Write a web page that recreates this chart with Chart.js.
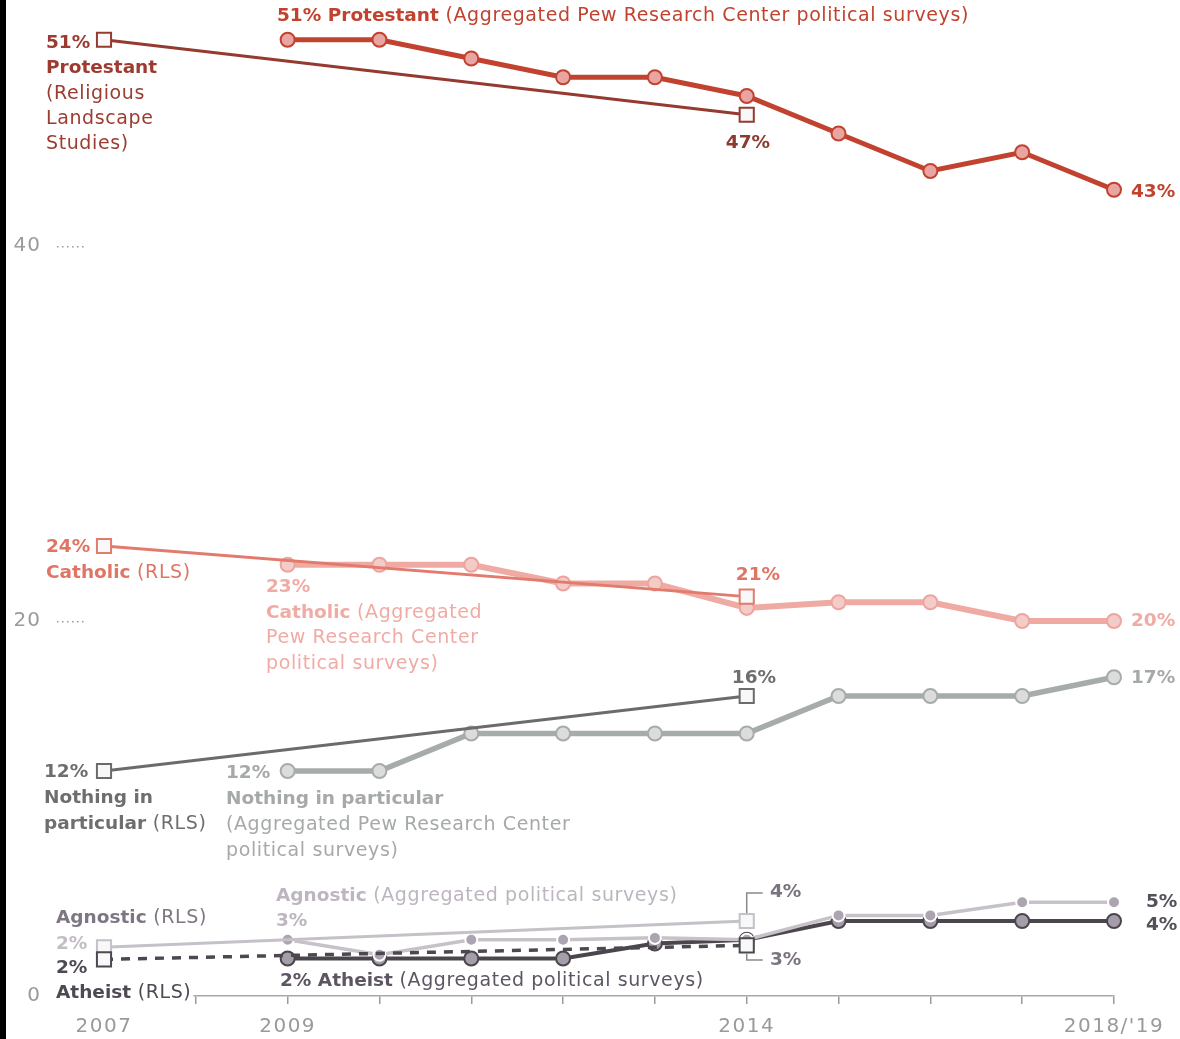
<!DOCTYPE html>
<html lang="en">
<head>
    <meta charset="UTF-8">
    <title>Religious affiliation trends</title>
    <style>
        body {
            margin: 0;
            background: #fff;
        }
        #wrap {
            position: relative;
            width: 1180px;
            height: 1039px;
        }
        /* dark strip along the left edge of the original image */
        #edge {
            position: absolute;
            left: 0;
            top: 0;
            width: 6px;
            height: 1039px;
            background: #000;
        }
    </style>
    <script src="https://cdn.jsdelivr.net/npm/chart.js"></script>
</head>
<body>
    <div id="wrap">
        <canvas id="chart" width="1180" height="1039"></canvas>
        <div id="edge"></div>
    </div>
    <script>
        // categories
        const years = ['2007', '2008', '2009', '2010', '2011', '2012', '2013', '2014', '2015', '2016', '2017', "2018/'19"];
        const shownYears = ['2007', '2009', '2014', "2018/'19"];
        const yTicks = [0, 20, 40];

        // Religious Landscape Studies (2007 and 2014 only)
        const protestantRls = [51, null, null, null, null, null, null, 47, null, null, null, null];
        const catholicRls   = [24, null, null, null, null, null, null, 21.3, null, null, null, null];
        const nothingRls    = [12, null, null, null, null, null, null, 16, null, null, null, null];
        const agnosticRls   = [2.6, null, null, null, null, null, null, 4, null, null, null, null];
        const atheistRls    = [1.95, null, null, null, null, null, null, 2.7, null, null, null, null];

        // Aggregated Pew Research Center political surveys
        const protestantAgg = [null, null, 51, 51, 50, 49, 49, 48, 46, 44, 45, 43];
        const catholicAgg   = [null, null, 23, 23, 23, 22, 22, 20.7, 21, 21, 20, 20];
        const nothingAgg    = [null, null, 12, 12, 14, 14, 14, 14, 16, 16, 16, 17];
        const agnosticAgg   = [null, null, 3, 2.2, 3, 3, 3.1, 3, 4.3, 4.3, 5, 5];
        const atheistAgg    = [null, null, 2, 2, 2, 2, 2.8, 3, 4, 4, 4, 4];

        const FONT = '"DejaVu Sans", "Liberation Sans", sans-serif';

        function aggLine(data, line, fill, border, width, radius, order) {
            return {
                data: data,
                borderColor: line,
                borderWidth: width,
                pointBackgroundColor: fill,
                pointBorderColor: border,
                pointBorderWidth: 2,
                pointRadius: radius,
                pointStyle: 'circle',
                spanGaps: false,
                tension: 0,
                order: order
            };
        }

        function rlsLine(data, line, width, order, dash) {
            return {
                data: data,
                borderColor: line,
                borderWidth: width,
                borderDash: dash || [],
                pointBackgroundColor: '#f8f8f8',
                pointBorderColor: line,
                pointBorderWidth: 2,
                pointRadius: 10,
                pointStyle: 'rect',
                spanGaps: true,
                tension: 0,
                order: order
            };
        }

        function setFont(ctx, bold) {
            ctx.font = bold ? 'bold 18.5px ' + FONT : '19px ' + FONT;
            ctx.letterSpacing = bold ? '0px' : '0.6px';
        }

        // text pieces: [text, bold]
        function measure(ctx, parts) {
            let total = 0;
            parts.forEach(p => {
                setFont(ctx, p[1]);
                total += ctx.measureText(p[0]).width;
            });
            return total;
        }

        function rich(ctx, x, y, parts, color, align) {
            ctx.fillStyle = color;
            ctx.textBaseline = 'middle';
            ctx.textAlign = 'left';
            let cx = x;
            if (align === 'center') cx = x - measure(ctx, parts) / 2;
            parts.forEach(p => {
                setFont(ctx, p[1]);
                ctx.fillText(p[0], cx, y);
                cx += ctx.measureText(p[0]).width;
            });
        }

        const notes = [
            { x: 277, y: 16, parts: [['51% Protestant', true], [' (Aggregated Pew Research Center political surveys)', false]], color: '#c1432f' },
            { x: 46, y: 43, parts: [['51%', true]], color: '#9c3b30' },
            { x: 46, y: 68, parts: [['Protestant', true]], color: '#9c3b30' },
            { x: 46, y: 94, parts: [['(Religious', false]], color: '#9c3b30' },
            { x: 46, y: 119, parts: [['Landscape', false]], color: '#9c3b30' },
            { x: 46, y: 144, parts: [['Studies)', false]], color: '#9c3b30' },
            { x: 748, y: 143, parts: [['47%', true]], color: '#8e3a30', align: 'center' },
            { x: 1131, y: 192, parts: [['43%', true]], color: '#c1432f' },

            { x: 46, y: 547, parts: [['24%', true]], color: '#e07565' },
            { x: 46, y: 573, parts: [['Catholic', true], [' (RLS)', false]], color: '#e07565' },
            { x: 758, y: 575, parts: [['21%', true]], color: '#e07565', align: 'center' },
            { x: 266, y: 587, parts: [['23%', true]], color: '#f0aba5' },
            { x: 266, y: 613, parts: [['Catholic', true], [' (Aggregated', false]], color: '#f0aba5' },
            { x: 266, y: 638, parts: [['Pew Research Center', false]], color: '#f0aba5' },
            { x: 266, y: 664, parts: [['political surveys)', false]], color: '#f0aba5' },
            { x: 1131, y: 621, parts: [['20%', true]], color: '#f0aba5' },

            { x: 754, y: 678, parts: [['16%', true]], color: '#6e6e6e', align: 'center' },
            { x: 1131, y: 678, parts: [['17%', true]], color: '#a5aaa7' },
            { x: 44, y: 772, parts: [['12%', true]], color: '#6e6e6e' },
            { x: 44, y: 798, parts: [['Nothing in', true]], color: '#6e6e6e' },
            { x: 44, y: 824, parts: [['particular', true], [' (RLS)', false]], color: '#6e6e6e' },
            { x: 226, y: 773, parts: [['12%', true]], color: '#a5aaa7' },
            { x: 226, y: 799, parts: [['Nothing in particular', true]], color: '#a5aaa7' },
            { x: 226, y: 825, parts: [['(Aggregated Pew Research Center', false]], color: '#a5aaa7' },
            { x: 226, y: 851, parts: [['political surveys)', false]], color: '#a5aaa7' },

            { x: 276, y: 896, parts: [['Agnostic', true], [' (Aggregated political surveys)', false]], color: '#bdb5bf' },
            { x: 276, y: 921, parts: [['3%', true]], color: '#bdb5bf' },
            { x: 56, y: 918, parts: [['Agnostic', true], [' (RLS)', false]], color: '#7e7683' },
            { x: 56, y: 944, parts: [['2%', true]], color: '#c4bdc6' },
            { x: 56, y: 968, parts: [['2%', true]], color: '#4f4954' },
            { x: 56, y: 993, parts: [['Atheist', true], [' (RLS)', false]], color: '#4f4954', bg: true },
            { x: 280, y: 981, parts: [['2% Atheist', true], [' (Aggregated political surveys)', false]], color: '#5d5662' },
            { x: 770, y: 892, parts: [['4%', true]], color: '#7b7480' },
            { x: 770, y: 960, parts: [['3%', true]], color: '#7b7480' },
            { x: 1146, y: 902, parts: [['5%', true]], color: '#55505a' },
            { x: 1146, y: 925, parts: [['4%', true]], color: '#55505a' }
        ];

        const notesPlugin = {
            id: 'notes',
            beforeDraw(chart) {
                // wider spacing for the year labels drawn by the x axis
                chart.ctx.letterSpacing = '1.5px';
            },
            afterDraw(chart) {
                const ctx = chart.ctx;
                const yScale = chart.scales.y;
                const xScale = chart.scales.x;
                ctx.save();

                // y tick labels with short dotted stubs
                yTicks.forEach(v => {
                    const py = yScale.getPixelForValue(v);
                    ctx.font = '20px ' + FONT;
                    ctx.letterSpacing = '1px';
                    ctx.fillStyle = '#9a9a9a';
                    ctx.textAlign = 'right';
                    ctx.textBaseline = 'middle';
                    ctx.fillText(String(v), 41, py);
                    if (v > 0) {
                        for (let dx = 57; dx <= 84; dx += 5) {
                            ctx.fillRect(dx, py, 1.5, 1.5);
                        }
                    }
                });

                // brackets for the 2014 agnostic / atheist RLS values
                const bx = xScale.getPixelForValue(7);
                ctx.strokeStyle = '#8a8a8a';
                ctx.lineWidth = 1.5;
                ctx.beginPath();
                ctx.moveTo(bx, yScale.getPixelForValue(agnosticRls[7]) - 8);
                ctx.lineTo(bx, 893);
                ctx.lineTo(bx + 16, 893);
                ctx.moveTo(bx, yScale.getPixelForValue(atheistRls[7]) + 8);
                ctx.lineTo(bx, 960);
                ctx.lineTo(bx + 16, 960);
                ctx.stroke();

                notes.forEach(n => {
                    if (n.bg) {
                        const w = measure(ctx, n.parts);
                        ctx.fillStyle = '#fff';
                        ctx.fillRect(n.x - 2, n.y - 12, w + 4, 24);
                    }
                    rich(ctx, n.x, n.y, n.parts, n.color, n.align);
                });
                ctx.restore();
                ctx.letterSpacing = '0px';
            }
        };

        new Chart(document.getElementById('chart'), {
            type: 'line',
            data: {
                labels: years,
                datasets: [
                    rlsLine(atheistRls, '#4c4751', 3.5, 1, [9, 8]),
                    rlsLine(agnosticRls, '#c6c0c8', 3, 2),
                    aggLine(agnosticAgg, '#c7c1c9', '#aca4b0', '#ffffff', 3.5, 6, 3),
                    aggLine(atheistAgg, '#4a464b', '#a69dab', '#4a464b', 4, 7, 4),
                    rlsLine(nothingRls, '#6b6b6b', 3, 5),
                    aggLine(nothingAgg, '#a6aca9', '#dcdcdc', '#a6aca9', 5.5, 7, 6),
                    rlsLine(catholicRls, '#e27b6d', 3, 7),
                    aggLine(catholicAgg, '#efaaa4', '#f3cbc7', '#eda59f', 6, 7, 8),
                    rlsLine(protestantRls, '#943a30', 3, 9),
                    aggLine(protestantAgg, '#c1432f', '#e9a5a1', '#c1432f', 5, 7, 10)
                ]
            },
            options: {
                responsive: false,
                animation: false,
                devicePixelRatio: 1,
                layout: {
                    padding: { left: 104, right: 66, top: 21, bottom: 0 }
                },
                plugins: {
                    legend: { display: false },
                    tooltip: { enabled: false }
                },
                scales: {
                    x: {
                        offset: false,
                        afterFit(scale) { scale.height = 43; },
                        grid: {
                            drawOnChartArea: false,
                            drawTicks: true,
                            tickLength: 8,
                            color: '#9a9a9a',
                            lineWidth: 1.5
                        },
                        border: { display: true, color: '#a8a8a8', width: 1.5 },
                        ticks: {
                            autoSkip: false,
                            maxRotation: 0,
                            padding: 11,
                            color: '#9a9a9a',
                            font: { family: FONT, size: 20 },
                            callback(value) {
                                const lab = years[value];
                                return shownYears.includes(lab) ? lab : '';
                            }
                        }
                    },
                    y: {
                        display: false,
                        min: 0,
                        max: 52
                    }
                }
            },
            plugins: [notesPlugin]
        });
    </script>
</body>
</html>
